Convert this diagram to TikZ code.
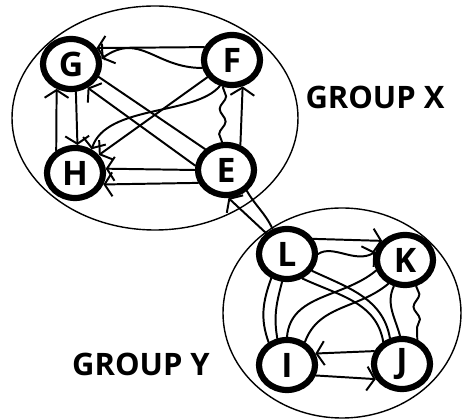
\documentclass[tikz,border=0pt]{standalone}
\usepackage{fontspec}
\setmainfont{Open Sans}
\usetikzlibrary{arrows.meta,shapes.geometric,decorations.pathmorphing}

\begin{document}
\begin{tikzpicture}[x=0.025cm, y=0.025cm, line cap=round,
  member/.style={ellipse, draw, line width=4.4pt, fill=white,
    minimum width=1.4cm, minimum height=1.25cm, inner sep=0pt,
    font=\fontsize{24}{28}\selectfont\bfseries},
  grp/.style={line width=1pt},
  link/.style={line width=1.4pt},
  rel/.style={link, -{Straight Barb[length=5.5pt,width=17pt]}},
  wavy/.style={link, decorate, decoration={snake, amplitude=2.2pt, segment length=18pt}},
  grouplabel/.style={font=\fontsize{22}{26}\selectfont\bfseries}]
  \useasboundingbox (0,0) rectangle (463,420);

  % Groups
  \draw[grp] (155,302) ellipse [x radius=143, y radius=112];
  \draw[grp] (342,107) ellipse [x radius=119, y radius=105];
  \node[grouplabel] (labelX) at (375,323) {GROUP X};
  \node[grouplabel] (labelY) at (141,56) {GROUP Y};

  % Members
  \node[member] (G) at (71,356) {G};
  \node[member] (F) at (232,360) {F};
  \node[member] (H) at (75,247) {H};
  \node[member] (E) at (226,250) {E};
  \node[member] (L) at (287,166) {L};
  \node[member] (K) at (405,160) {K};
  \node[member] (I) at (287,55) {I};
  \node[member] (J) at (402,56) {J};

  % Group X
  \draw[rel] (F.155) -- (G.32);
  \draw[rel] (F.195) to[out=180,in=35,looseness=1.2] (G.10);
  \draw[rel] (G.-80) -- (H.85);
  \draw[rel] (H.130) -- (G.-120);
  \draw[rel] (E.172) -- (G.-55);
  \draw[link] (G.-25) -- (E.135);
  \draw[rel] (F.215) -- (H.37);
  \draw[rel] (F.245) .. controls +(-25,-30) and +(15,45) .. (H.55);
  \draw[rel] (E.180) -- (H.8);
  \draw[rel] (E.205) -- (H.-22);
  \draw[rel] (E.60) -- (F.-68);
  \draw[wavy] (E.98) -- (F.-108);

  % Between groups
  \draw[rel] (L.135) -- (E.-85);
  \draw[link] (E.-45) to[out=-60,in=115] (L.120);

  % Group Y
  \draw[rel] (L.30) -- (K.140);
  \draw[rel] (L.0) .. controls +(15,10) and +(-20,-12) .. (K.165);
  \draw[link] (L.-123) to[out=-110,in=110] (I.129);
  \draw[link] (L.-100) to[out=-105,in=100] (I.110);
  \draw[link] (L.-58) to[out=-25,in=100] (J.130);
  \draw[link] (L.-34) to[out=-25,in=100] (J.115);
  \draw[link] (K.200) to[out=220,in=85] (I.90);
  \draw[link] (K.235) to[out=220,in=70] (I.52);
  \draw[link] (K.-113) to[out=-115,in=105] (J.94);
  \draw[wavy] (K.-67) -- (J.58);
  \draw[rel] (J.155) -- (I.22);
  \draw[rel] (I.-20) -- (J.210);
\end{tikzpicture}
\end{document}
